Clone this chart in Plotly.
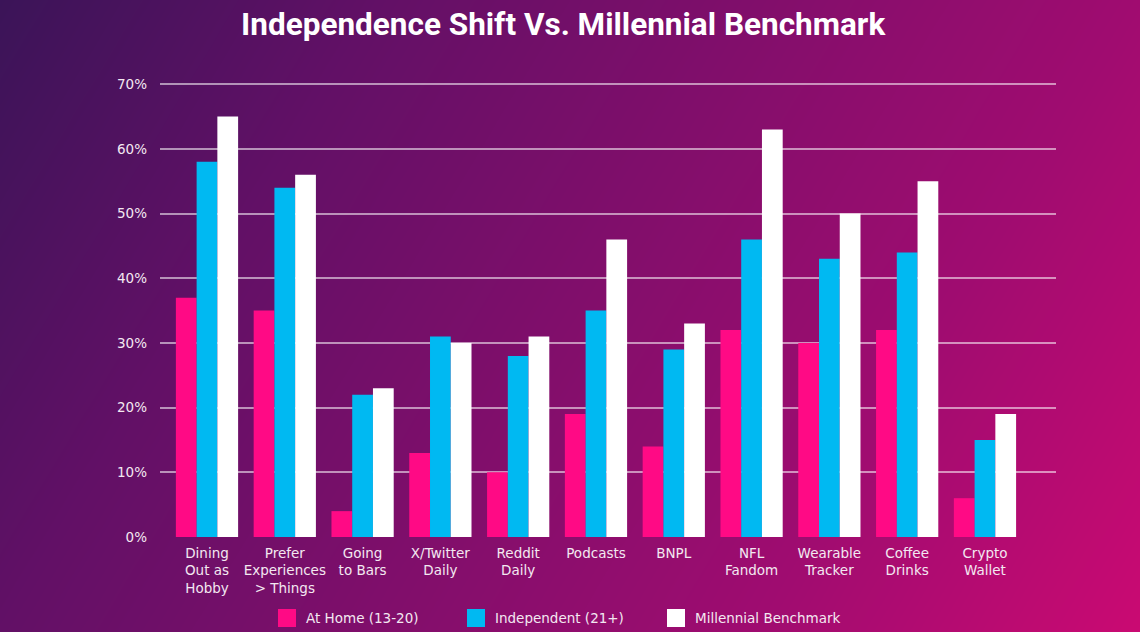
import numpy as np
import plotly.graph_objects as go

# chart data
categories = [
    "Dining<br>Out as<br>Hobby", "Prefer<br>Experiences<br>> Things", "Going<br>to Bars",
    "X/Twitter<br>Daily", "Reddit<br>Daily", "Podcasts", "BNPL", "NFL<br>Fandom",
    "Wearable<br>Tracker", "Coffee<br>Drinks", "Crypto<br>Wallet",
]
at_home = [37, 35, 4, 13, 10, 19, 14, 32, 30, 32, 6]
independent = [58, 54, 22, 31, 28, 35, 29, 46, 43, 44, 15]
millennial = [65, 56, 23, 30, 31, 46, 33, 63, 50, 55, 19]
series_names = ["At Home (13-20)", "Independent (21+)", "Millennial Benchmark"]
series_colors = ["#FF0A85", "#00B9F2", "#FFFFFF"]
y_ticks = [0, 10, 20, 30, 40, 50, 60, 70]
y_labels = [f"{v}%" for v in y_ticks]

W, H = 1140, 632
TICK_FONT = dict(family="DejaVu Sans, sans-serif", size=13.5, color="#F3E8F1")

fig = go.Figure()

# gradient background (purple -> magenta) as a heatmap behind everything
gx = np.linspace(0, 1, 60)
gy = np.linspace(0, 1, 40)
GX, GY = np.meshgrid(gx, gy)
gz = 0.75 * GX + 0.25 * (1 - GY)
fig.add_trace(go.Heatmap(
    x=gx, y=gy, z=gz, zsmooth="best", showscale=False, hoverinfo="skip",
    colorscale=[[0, "#3B1458"], [0.25, "#621066"], [0.75, "#A00C70"], [1, "#CA0A72"]],
    xaxis="x", yaxis="y",
))

for name, vals, col in zip(series_names, [at_home, independent, millennial], series_colors):
    fig.add_trace(go.Bar(
        x=categories, y=vals, name=name, marker_color=col, marker_line_width=0,
        xaxis="x2", yaxis="y2", showlegend=False,
    ))

# legend drawn by hand (larger squares than plotly's legend icons)
legend_x = [278, 467, 667]
for name, col, lx in zip(series_names, series_colors, legend_x):
    fig.add_shape(type="rect", xref="paper", yref="paper",
                  x0=lx / W, x1=(lx + 18) / W, y0=1 - 627 / H, y1=1 - 609 / H,
                  fillcolor=col, line_width=0)
    fig.add_annotation(x=(lx + 26) / W, y=1 - 618 / H, xref="paper", yref="paper",
                       text=name, showarrow=False, xanchor="left", yanchor="middle",
                       font=TICK_FONT)

fig.update_layout(
    width=W, height=H,
    margin=dict(l=0, r=0, t=0, b=0, autoexpand=False),
    paper_bgcolor="#3B1458",
    plot_bgcolor="rgba(0,0,0,0)",
    barmode="group", bargap=0.2, bargroupgap=0,
    showlegend=False,
    title=dict(text="<b>Independence Shift Vs. Millennial Benchmark</b>",
               x=0.494, xanchor="center", y=1 - 24 / H, yanchor="middle",
               font=dict(family="Roboto, sans-serif", size=31.5, color="white")),
    xaxis=dict(domain=[0, 1], range=[0, 1], visible=False, fixedrange=True,
               automargin=False),
    yaxis=dict(domain=[0, 1], range=[0, 1], visible=False, fixedrange=True,
               automargin=False),
    xaxis2=dict(domain=[160 / W, 1056 / W], anchor="y2", type="category",
                range=[-0.604, 10.913], showgrid=False, showline=False,
                tickfont=TICK_FONT, ticks="", zeroline=False, automargin=False,
                ticklabelstandoff=6),
    yaxis2=dict(domain=[1 - 537 / H, 1 - 81 / H], anchor="x2", range=[0, 70.5],
                tickmode="array", tickvals=y_ticks, ticktext=y_labels,
                tickfont=TICK_FONT, showgrid=True,
                gridcolor="rgba(255,255,255,0.55)", gridwidth=1.5,
                zeroline=False, showline=False, ticklabelstandoff=12,
                automargin=False),
)

fig.write_html("out.html", config={"displayModeBar": False},
               post_script="document.body.style.margin='0';")
